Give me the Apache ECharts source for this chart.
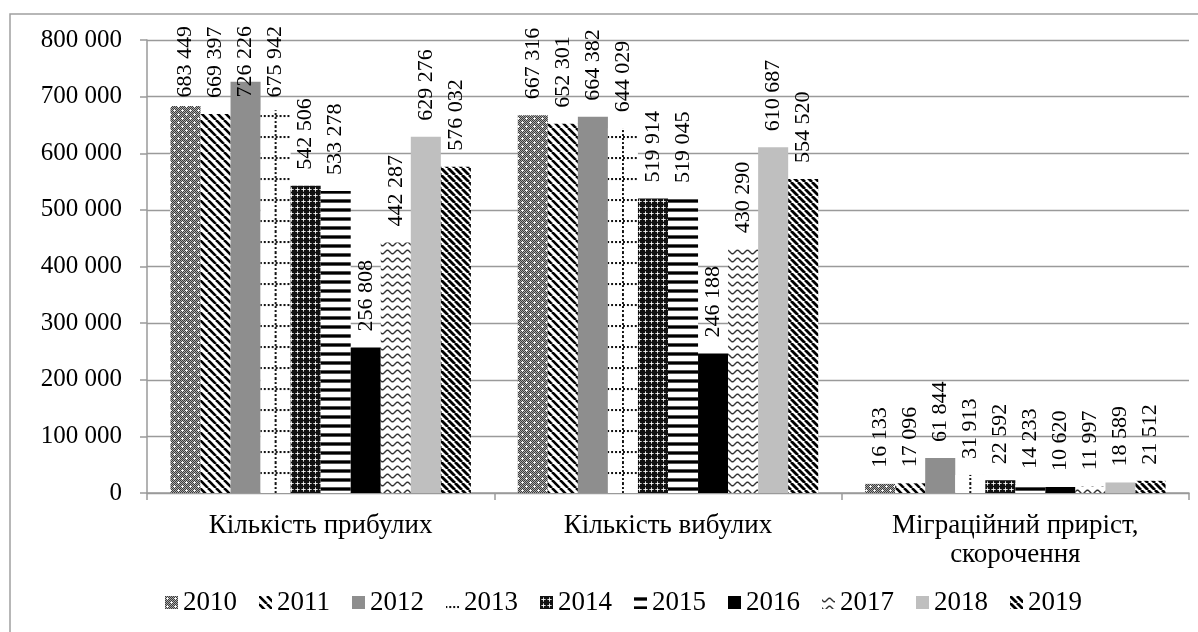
<!DOCTYPE html>
<html>
<head>
<meta charset="utf-8">
<script src="https://cdn.jsdelivr.net/npm/echarts@6/dist/echarts.min.js"></script>
<style>
html,body{margin:0;padding:0;background:#fff;}
#main{width:1198px;height:632px;}
</style>
</head>
<body>
<div id="main"></div>
<script>
var categories = ['Кількість прибулих', 'Кількість вибулих', 'Міграційний приріст,\nскорочення'];
var years = ['2010', '2011', '2012', '2013', '2014', '2015', '2016', '2017', '2018', '2019'];
var v2010 = [683449, 667316, 16133];
var v2011 = [669397, 652301, 17096];
var v2012 = [726226, 664382, 61844];
var v2013 = [675942, 644029, 31913];
var v2014 = [542506, 519914, 22592];
var v2015 = [533278, 519045, 14233];
var v2016 = [256808, 246188, 10620];
var v2017 = [442287, 430290, 11997];
var v2018 = [629276, 610687, 18589];
var v2019 = [576032, 554520, 21512];
var seriesValues = [v2010, v2011, v2012, v2013, v2014, v2015, v2016, v2017, v2018, v2019];
var yMin = 0, yMax = 800000, yStep = 100000;

function fmt(v) {
  return String(v).replace(/\B(?=(\d{3})+(?!\d))/g, ' ');
}
function tile(w, h, draw, extra) {
  var c = document.createElement('canvas');
  c.width = w; c.height = h;
  var ctx = c.getContext('2d');
  ctx.fillStyle = '#fff';
  ctx.fillRect(0, 0, w, h);
  draw(ctx, w, h);
  var p = { image: c, repeat: 'repeat' };
  if (extra) for (var k in extra) p[k] = extra[k];
  return p;
}
function px(ctx, x, y, col) { ctx.fillStyle = col; ctx.fillRect(x, y, 1, 1); }

var p2010 = tile(8, 8, function (ctx) {
  for (var y = 0; y < 8; y++) for (var x = 0; x < 8; x++) {
    px(ctx, x, y, ((x + y) % 2 === 0) ? '#3c3c3c' : '#a8a8a8');
  }
  [[2, 2], [6, 6]].forEach(function (c) {
    px(ctx, c[0], c[1], '#fff'); px(ctx, c[0] - 1, c[1], '#eee'); px(ctx, c[0] + 1, c[1], '#eee');
    px(ctx, c[0], c[1] - 1, '#eee'); px(ctx, c[0], c[1] + 1, '#eee');
  });
});
function diag(period, lw) {
  return tile(period, period, function (ctx, w, h) {
    ctx.strokeStyle = '#000'; ctx.lineWidth = lw;
    for (var k = -1; k <= 1; k++) {
      ctx.beginPath(); ctx.moveTo(k * w, 0); ctx.lineTo(k * w + w, h); ctx.stroke();
    }
  });
}
var p2011 = diag(8, 2.6);
var p2019 = diag(7, 2.8);
// dotted grid: one vertical dotted line per bar, tile matched to the category pitch
var p2013 = tile(32, 21, function (ctx) {
  ctx.fillStyle = '#111';
  for (var x = 0; x < 32; x += 4) ctx.fillRect(x, 10, 2, 2);
  for (var y = 0; y < 21; y += 4) ctx.fillRect(15, y, 2, 2);
}, { scaleX: 0.98675, x: 7.2 });
var p2014 = tile(6, 6, function (ctx) {
  ctx.fillStyle = '#111'; ctx.fillRect(0, 0, 6, 6);
  px(ctx, 3, 1, '#999'); px(ctx, 1, 3, '#999'); px(ctx, 5, 3, '#999'); px(ctx, 3, 5, '#999');
  px(ctx, 3, 2, '#ddd'); px(ctx, 2, 3, '#ddd'); px(ctx, 4, 3, '#ddd'); px(ctx, 3, 4, '#ddd');
  px(ctx, 3, 3, '#fff');
});
var p2015 = tile(4, 9, function (ctx) {
  ctx.fillStyle = '#555'; ctx.fillRect(0, 1, 4, 1); ctx.fillRect(0, 4, 4, 1);
  ctx.fillStyle = '#000'; ctx.fillRect(0, 2, 4, 2);
});
var p2017 = tile(10, 8, function (ctx) {
  ctx.strokeStyle = '#333'; ctx.lineWidth = 1.4;
  ctx.beginPath();
  for (var x = -1; x <= 11; x += 0.5) {
    var y = 4 + 1.8 * Math.sin(2 * Math.PI * x / 10);
    if (x === -1) ctx.moveTo(x, y); else ctx.lineTo(x, y);
  }
  ctx.stroke();
});
var fills = [p2010, p2011, '#8e8e8e', p2013, p2014, p2015, '#000000', p2017, '#bfbfbf', p2019];

var FONT = "'Times New Roman', 'Liberation Serif', serif";
var LABEL_TOP = 26;
var series = years.map(function (y, i) {
  return {
    name: y,
    type: 'bar',
    data: seriesValues[i],
    barGap: '0%',
    barCategoryGap: '13.5%',
    itemStyle: { color: fills[i] },
    label: {
      show: true,
      position: 'top',
      distance: 16,
      rotate: 90,
      align: 'left',
      verticalAlign: 'middle',
      fontFamily: FONT,
      fontSize: 22,
      color: '#000',
      formatter: function (p) { return fmt(p.value); }
    },
    labelLayout: function (p) {
      var r = p.labelRect;
      if (r && r.y < LABEL_TOP) return { dx: -(LABEL_TOP - r.y) };
      return {};
    }
  };
});

var chart = echarts.init(document.getElementById('main'), null, { renderer: 'canvas' });
chart.setOption({
  animation: false,
  backgroundColor: '#fff',
  textStyle: { fontFamily: FONT },
  graphic: [{
    type: 'rect',
    shape: { x: 10, y: 14, width: 1400, height: 800 },
    style: { fill: 'none', stroke: '#a0a0a0', lineWidth: 1.5 },
    silent: true
  }],
  grid: { left: 147, right: 9, top: 40, bottom: 139, containLabel: false },
  legend: {
    data: years,
    left: 160,
    top: 584,
    icon: 'rect',
    itemWidth: 13,
    itemHeight: 13,
    itemGap: 22,
    textStyle: { fontFamily: FONT, fontSize: 27, color: '#000' }
  },
  xAxis: {
    type: 'category',
    data: categories,
    axisLine: { lineStyle: { color: '#9a9a9a', width: 1.5 } },
    axisTick: { show: true, length: 7, lineStyle: { color: '#9a9a9a', width: 1.5 } },
    axisLabel: { interval: 0, margin: 18, fontFamily: FONT, fontSize: 27, color: '#000', lineHeight: 29 }
  },
  yAxis: {
    type: 'value',
    min: yMin, max: yMax, interval: yStep,
    axisLine: { show: true, lineStyle: { color: '#9a9a9a', width: 1.5 } },
    axisTick: { show: true, length: 7, lineStyle: { color: '#9a9a9a', width: 1.5 } },
    splitLine: { lineStyle: { color: '#9a9a9a', width: 1.3 } },
    axisLabel: { margin: 25, fontFamily: FONT, fontSize: 25, color: '#000', formatter: function (v) { return fmt(v); } }
  },
  series: series
});
</script>
</body>
</html>
